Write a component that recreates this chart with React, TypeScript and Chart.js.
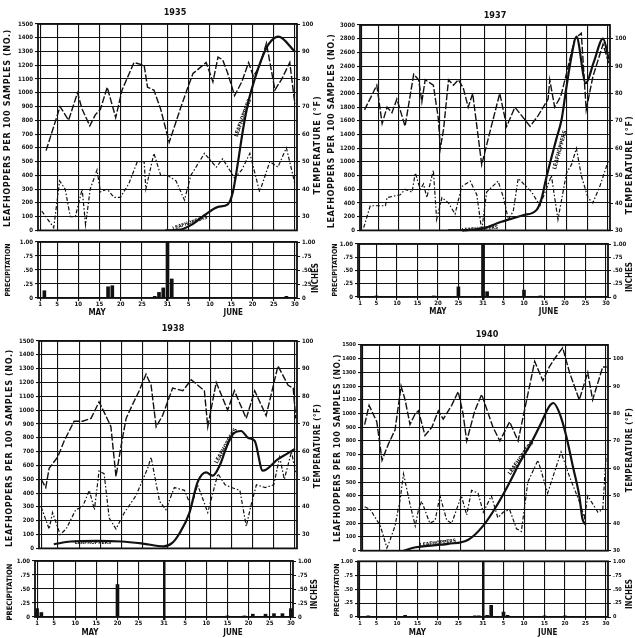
import React, { useEffect, useRef } from "react";
import { Chart, registerables } from "chart.js";

Chart.register(...registerables);

// ---------- shared axis labels ----------
const dayTicks = [1, 5, 10, 15, 20, 25, 31, 36, 41, 46, 51, 56, 61];
const dayTickLabels = ["1", "5", "10", "15", "20", "25", "31", "5", "10", "15", "20", "25", "30"];
const monthLabels = ["MAY", "JUNE"];
const precipTicks = [0, 0.25, 0.5, 0.75, 1];
const precipTickLabels = ["0", ".25", ".50", ".75", "1.00"];
const tempTicks = [30, 40, 50, 60, 70, 80, 90, 100];

// ---------- 1935 ----------
const max1935Days = [2.4, 5.7, 7.7, 9.8, 10.9, 12.7, 14, 15.2, 16.8, 18.8, 20.3, 23.1, 25.5, 26.3, 27.8, 29.4, 31.4, 34.2, 35.8, 37, 40.1, 41.7, 42.9, 44, 45.2, 46.8, 48.5, 50.1, 51.2, 52.5, 54.3, 56.3, 57.9, 59.8, 61];
const max1935 = [54, 70, 65, 75, 69, 63, 67, 69, 77, 66, 76, 86, 85, 77, 76, 69, 57, 70, 77, 82, 86, 79, 88, 87, 82, 74, 79, 86, 81, 84, 93, 76, 80, 86, 71];
const min1935Days = [1.4, 4.2, 5.6, 6.9, 8.1, 9.3, 10.9, 11.7, 12.8, 14.4, 15.2, 16.8, 18.4, 19.9, 21.9, 23.9, 25.5, 25.9, 27.8, 29.4, 31, 33, 35, 36.5, 39.7, 42.5, 44, 46.8, 48.5, 50.4, 52.7, 55.1, 57, 59, 61];
const min1935 = [32, 26, 43, 40, 30, 30, 40, 27, 40, 47, 39, 40, 37, 37, 42, 50, 50, 40, 53, 45, 45, 43, 36, 45, 53, 48, 51, 44, 47, 53, 39, 50, 48, 55, 42];
const hop1935Days = [30.5, 34, 36.5, 39.7, 42.9, 45.2, 46.4, 47.6, 48.8, 50, 51.5, 53.1, 54.7, 57.1, 61];
const hop1935 = [0, 5, 38, 110, 171, 190, 279, 495, 735, 928, 1096, 1240, 1348, 1408, 1300];
const rain1935Days = [2, 17, 18, 28, 29, 30, 31, 32, 59];
const rain1935 = [0.13, 0.2, 0.22, 0.03, 0.1, 0.18, 1.0, 0.34, 0.03];
const month1935 = [14.4, 46.5];

// ---------- 1937 ----------
const max1937Days = [1.6, 4.6, 5.9, 7.1, 8.3, 9.5, 10.7, 11.5, 13.6, 14.8, 15.6, 16.4, 18.4, 19.6, 20.1, 20.9, 22.1, 23.3, 24.5, 25.7, 26.9, 28, 30.2, 32.2, 34.6, 36.3, 38.3, 42, 44, 46.4, 46.8, 48, 49.5, 51, 52.9, 54.5, 55.7, 57.3, 59.8, 61.2];
const max1937 = [74, 83, 69, 75, 73, 78, 72, 68, 87, 85, 77, 85, 83, 71, 60, 67, 85, 83, 85, 82, 75, 80, 54, 66, 80, 68, 75, 68, 72, 78, 85, 75, 79, 88, 100, 102, 74, 86, 98, 91];
const min1937Days = [1.4, 3, 6.7, 7.1, 10.3, 11.5, 13.2, 14, 15.2, 16, 16.8, 18.4, 19.2, 20.5, 22.1, 23.7, 25.3, 27.4, 29, 30.2, 31.4, 34.2, 35.5, 36.7, 37.9, 39.1, 42.4, 44.4, 47.2, 48.8, 50.9, 52.1, 53.3, 54.5, 56.1, 57.3, 59, 61];
const min1937 = [31, 39, 39, 42, 43, 45, 44, 51, 45, 47, 42, 52, 34, 42, 40, 36, 46, 48, 43, 30, 44, 48, 42, 34, 37, 49, 44, 39, 50, 34, 51, 54, 60, 50, 42, 40, 46, 55];
const hop1937Days = [22, 26, 30.6, 35, 36.3, 40.3, 43.6, 44.8, 45.9, 48.4, 49.7, 50.9, 52.1, 53.3, 55.6, 57.5, 59.8, 61.2];
const hop1937 = [0, 5, 30, 126, 150, 222, 300, 464, 753, 1333, 1623, 2105, 2540, 2830, 2150, 2450, 2800, 2500];
const rain1937Days = [5, 19, 25, 31, 32, 41, 45];
const rain1937 = [0.02, 0.02, 0.19, 1.0, 0.1, 0.13, 0.02];
const month1937 = [20, 47];

// ---------- 1938 ----------
const max1938Days = [1, 2.1, 2.9, 4.9, 6.5, 8.8, 10.8, 12.8, 14.7, 16.3, 17.5, 18.7, 19.9, 21.1, 22.6, 24.2, 25.8, 27, 28.2, 29.7, 32.1, 34.5, 36.5, 39.6, 40.4, 42.4, 45.1, 46.7, 49.5, 51.5, 54.2, 57, 59.4, 60.6, 61.2];
const max1938 = [50, 47, 54, 58, 64, 71, 71, 72, 78, 73, 69, 51, 62, 72, 77, 82, 88, 84, 69, 73, 83, 82, 86, 82, 69, 85, 75, 82, 72, 82, 73, 91, 84, 83, 72];
const min1938Days = [1, 2.9, 3.7, 5.5, 6.9, 9.2, 10.8, 12.4, 13.6, 14.7, 15.9, 17.1, 18.7, 20.7, 23.4, 26.2, 27, 29, 30.5, 32.5, 34.9, 36.5, 38, 40.4, 42.8, 44.5, 46, 48, 49.5, 50.7, 51.9, 54, 56, 57.4, 58.5, 60.2, 61.2];
const min1938 = [40, 32, 38, 30, 32, 39, 40, 46, 39, 53, 52, 36, 32, 38, 44, 54, 58, 42, 39, 47, 46, 40, 48, 38, 52, 48, 47, 46, 33, 41, 48, 47, 48, 58, 50, 60, 52];
const hop1938Days = [4, 8, 14, 20, 25, 30, 32, 33.7, 36, 38, 40, 41.6, 43.2, 44.8, 46.3, 48.3, 49.9, 51.5, 53.4, 57, 59, 61];
const hop1938 = [30, 50, 55, 50, 35, 15, 40, 108, 251, 479, 550, 526, 598, 730, 825, 849, 801, 777, 562, 646, 682, 720];
const rain1938Days = [1, 2, 7, 20, 46, 50, 52, 55, 57, 59, 61];
const rain1938 = [0.15, 0.08, 0.01, 0.58, 0.02, 0.02, 0.05, 0.05, 0.06, 0.06, 0.15];
const month1938 = [13.5, 47.3];

// ---------- 1940 ----------
const max1940Days = [1.4, 2.5, 4.4, 5.7, 7.3, 8.9, 10.4, 11.4, 12.6, 13.9, 14.7, 16.3, 18, 19.6, 20.8, 22.9, 24.5, 25.7, 26.6, 28.6, 30.3, 33.1, 34.8, 37.2, 39.3, 41.7, 43.4, 45.4, 47, 48.3, 50.3, 52, 54.4, 56.5, 57.7, 60.2, 61.2];
const max1940 = [76, 83, 77, 63, 69, 74, 90, 85, 76, 80, 81, 72, 75, 81, 78, 83, 88, 80, 70, 81, 87, 75, 70, 77, 70, 87, 99, 92, 97, 100, 104, 95, 85, 95, 85, 97, 97];
const min1940Days = [1.4, 2.8, 5.3, 6.9, 7.7, 8.9, 10.2, 11, 12.6, 13.9, 14.7, 15.5, 17.5, 18.8, 20, 21.7, 22.9, 25.3, 26.6, 27.8, 29.4, 30.7, 32.7, 34.3, 35.6, 37.2, 38.9, 40.1, 41.7, 44.2, 46.6, 49.9, 52, 54.4, 55.7, 56.5, 59, 60.2, 61];
const min1940 = [46, 45, 39, 31, 34, 39, 49, 58, 47, 39, 45, 48, 40, 41, 50, 41, 40, 50, 43, 52, 51, 44, 50, 42, 44, 45, 38, 37, 55, 63, 51, 66, 57, 48, 42, 50, 44, 45, 64];
const hop1940Days = [11, 14, 22, 27, 30.7, 34, 37.2, 39.7, 42.1, 45, 47, 48, 49.5, 51.2, 52.8, 54.4, 55.2, 56];
const hop1940 = [0, 25, 50, 80, 183, 328, 498, 643, 763, 932, 1053, 1077, 1005, 835, 618, 401, 232, 190];
const rain1940Days = [3, 12, 29, 30, 32, 33, 36, 37, 46, 51];
const rain1940 = [0.02, 0.03, 0.02, 0.02, 0.03, 0.21, 0.09, 0.03, 0.02, 0.02];
const month1940 = [15, 46.8];

// ---------- styling / layout ----------
const INK = "#111";
const FONT = "'DejaVu Sans Condensed', 'DejaVu Sans', sans-serif";
const X_MIN = 0.5;
const X_MAX = 61.5;

type Rect = { x: number; y: number; w: number; h: number };
type Area = { l: number; t: number; r: number; b: number };
type TextItem = { text: string; x: number; y: number; size: number; rot?: number; ls?: number };

interface Panel {
  year: string;
  hopMax: number;
  hopStep: number;
  tMin: number;
  tMax: number;
  tickSize: number;
  lineCanvas: Rect;
  linePlot: Area;
  rainCanvas: Rect;
  rainPlot: Area;
  rainXH: number;
  hopDays: number[];
  hop: number[];
  maxDays: number[];
  maxT: number[];
  minDays: number[];
  minT: number[];
  rainDays: number[];
  rain: number[];
  monthDays: number[];
  lineTexts: TextItem[];
  rainTexts: TextItem[];
}

const UP = -Math.PI / 2;
const LEFT_TITLE = "LEAFHOPPERS PER 100 SAMPLES (NO.)";
const TEMP_TITLE = "TEMPERATURE (°F)";

const panels: Panel[] = [
  {
    year: "1935", hopMax: 1500, hopStep: 100, tMin: 25, tMax: 100, tickSize: 6,
    lineCanvas: { x: 0, y: 0, w: 325, h: 236 }, linePlot: { l: 38, t: 24, r: 297, b: 232 },
    rainCanvas: { x: 0, y: 236, w: 325, h: 82 }, rainPlot: { l: 38, t: 242, r: 297, b: 298 }, rainXH: 9,
    hopDays: hop1935Days, hop: hop1935, maxDays: max1935Days, maxT: max1935, minDays: min1935Days, minT: min1935,
    rainDays: rain1935Days, rain: rain1935, monthDays: month1935,
    lineTexts: [
      { text: "1935", x: 175, y: 13, size: 9 },
      { text: LEFT_TITLE, x: 8, y: 128, size: 9, rot: UP, ls: 0.6 },
      { text: TEMP_TITLE, x: 318, y: 145, size: 9, rot: UP, ls: 0.8 },
      { text: "LEAFHOPPERS", x: 243, y: 118, size: 5.5, rot: -1.22 },
      { text: "LEAFHOPPERS", x: 190, y: 223, size: 5, rot: -0.32 },
    ],
    rainTexts: [
      { text: "PRECIPITATION", x: 8, y: 270, size: 7, rot: UP },
      { text: "INCHES", x: 316, y: 278, size: 8, rot: UP },
    ],
  },
  {
    year: "1937", hopMax: 3000, hopStep: 200, tMin: 30, tMax: 105, tickSize: 6,
    lineCanvas: { x: 325, y: 0, w: 310, h: 236 }, linePlot: { l: 360, t: 25, r: 610, b: 232 },
    rainCanvas: { x: 325, y: 236, w: 310, h: 82 }, rainPlot: { l: 358, t: 244, r: 608, b: 297 }, rainXH: 9,
    hopDays: hop1937Days, hop: hop1937, maxDays: max1937Days, maxT: max1937, minDays: min1937Days, minT: min1937,
    rainDays: rain1937Days, rain: rain1937, monthDays: month1937,
    lineTexts: [
      { text: "1937", x: 495, y: 16, size: 9 },
      { text: LEFT_TITLE, x: 332, y: 131, size: 9, rot: UP, ls: 0.5 },
      { text: TEMP_TITLE, x: 630, y: 165, size: 9, rot: UP, ls: 0.8 },
      { text: "LEAFHOPPERS", x: 560, y: 150, size: 5.5, rot: -1.3 },
      { text: "LEAFHOPPERS", x: 480, y: 229, size: 5, rot: -0.08 },
    ],
    rainTexts: [
      { text: "PRECIPITATION", x: 335, y: 270, size: 7, rot: UP },
      { text: "INCHES", x: 630, y: 277, size: 8, rot: UP },
    ],
  },
  {
    year: "1938", hopMax: 1500, hopStep: 100, tMin: 25, tMax: 100, tickSize: 6,
    lineCanvas: { x: 0, y: 318, w: 325, h: 236 }, linePlot: { l: 39, t: 341, r: 297, b: 550 },
    rainCanvas: { x: 0, y: 554, w: 325, h: 84 }, rainPlot: { l: 35, t: 561, r: 293, b: 617 }, rainXH: 10,
    hopDays: hop1938Days, hop: hop1938, maxDays: max1938Days, maxT: max1938, minDays: min1938Days, minT: min1938,
    rainDays: rain1938Days, rain: rain1938, monthDays: month1938,
    lineTexts: [
      { text: "1938", x: 173, y: 329, size: 9 },
      { text: LEFT_TITLE, x: 10, y: 448, size: 9, rot: UP, ls: 0.6 },
      { text: TEMP_TITLE, x: 318, y: 446, size: 8, rot: UP, ls: 0.5 },
      { text: "LEAFHOPPERS", x: 226, y: 446, size: 5.5, rot: -1.05 },
      { text: "LEAFHOPPERS", x: 93, y: 543, size: 5, rot: 0 },
    ],
    rainTexts: [
      { text: "PRECIPITATION", x: 10, y: 592, size: 7.5, rot: UP },
      { text: "INCHES", x: 315, y: 594, size: 8, rot: UP },
    ],
  },
  {
    year: "1940", hopMax: 1500, hopStep: 100, tMin: 30, tMax: 105, tickSize: 5.5,
    lineCanvas: { x: 325, y: 318, w: 310, h: 238 }, linePlot: { l: 361, t: 345, r: 608, b: 552 },
    rainCanvas: { x: 325, y: 556, w: 310, h: 82 }, rainPlot: { l: 358, t: 561, r: 608, b: 617 }, rainXH: 10,
    hopDays: hop1940Days, hop: hop1940, maxDays: max1940Days, maxT: max1940, minDays: min1940Days, minT: min1940,
    rainDays: rain1940Days, rain: rain1940, monthDays: month1940,
    lineTexts: [
      { text: "1940", x: 487, y: 335, size: 9 },
      { text: LEFT_TITLE, x: 338, y: 448, size: 8.5, rot: UP, ls: 0.6 },
      { text: TEMP_TITLE, x: 630, y: 450, size: 8, rot: UP, ls: 0.5 },
      { text: "LEAFHOPPERS", x: 521, y: 458, size: 5.5, rot: -0.95 },
      { text: "LEAFHOPPERS", x: 438, y: 543, size: 5, rot: -0.12 },
    ],
    rainTexts: [
      { text: "PRECIPITATION", x: 337, y: 590, size: 7, rot: UP },
      { text: "INCHES", x: 630, y: 594, size: 8, rot: UP },
    ],
  },
];

// ---------- helpers ----------
function pts(xs: number[], ys: number[]) {
  return xs.map((x, i) => ({ x, y: ys[i] }));
}

function fixSize(size: number) {
  return (scale: any) => {
    if (scale.isHorizontal()) scale.height = size;
    else scale.width = size;
  };
}

function setTicks(values: number[]) {
  return (scale: any) => {
    scale.ticks = values.map((v) => ({ value: v }));
  };
}

const framePlugin = {
  id: "frame",
  afterDatasetsDraw(chart: any) {
    const { ctx, chartArea: a } = chart;
    ctx.save();
    ctx.strokeStyle = INK;
    ctx.lineWidth = 1.8;
    ctx.strokeRect(a.left, a.top, a.right - a.left, a.bottom - a.top);
    ctx.restore();
  },
};

function textPlugin(items: TextItem[], ox: number, oy: number) {
  return {
    id: "panelTexts",
    afterDraw(chart: any) {
      const ctx = chart.ctx;
      for (const it of items) {
        ctx.save();
        ctx.translate(it.x - ox, it.y - oy);
        if (it.rot) ctx.rotate(it.rot);
        ctx.font = `bold ${it.size}px ${FONT}`;
        ctx.fillStyle = INK;
        ctx.textAlign = "center";
        ctx.textBaseline = "middle";
        if ("letterSpacing" in ctx) (ctx as any).letterSpacing = `${it.ls ?? 0}px`;
        ctx.fillText(it.text, 0, 0);
        ctx.restore();
      }
    },
  };
}

function lineConfig(p: Panel): any {
  const c = p.lineCanvas;
  const a = p.linePlot;
  const tickFont = { family: FONT, size: p.tickSize, weight: "bold" };
  return {
    type: "line",
    data: {
      datasets: [
        {
          label: "LEAFHOPPERS",
          data: pts(p.hopDays, p.hop),
          yAxisID: "y",
          borderColor: INK,
          borderWidth: 2.2,
          pointRadius: 0,
          cubicInterpolationMode: "monotone",
          fill: false,
        },
        {
          label: "MAX.",
          data: pts(p.maxDays, p.maxT),
          yAxisID: "yt",
          borderColor: INK,
          borderWidth: 1.4,
          borderDash: [7, 2],
          pointRadius: 0,
          tension: 0,
          fill: false,
        },
        {
          label: "MIN.",
          data: pts(p.minDays, p.minT),
          yAxisID: "yt",
          borderColor: INK,
          borderWidth: 1.2,
          borderDash: [4, 2, 1.5, 2],
          pointRadius: 0,
          tension: 0,
          fill: false,
        },
      ],
    },
    options: {
      responsive: false,
      animation: false,
      events: [],
      layout: { padding: { top: a.t - c.y, left: 0, right: 0, bottom: 0 } },
      plugins: { legend: { display: false }, tooltip: { enabled: false }, title: { display: false } },
      scales: {
        x: {
          type: "linear",
          axis: "x",
          position: "bottom",
          min: X_MIN,
          max: X_MAX,
          offset: false,
          afterBuildTicks: setTicks(dayTicks),
          ticks: { display: false },
          grid: { color: INK, lineWidth: 1.1, drawTicks: false, offset: false },
          border: { display: false },
          afterFit: fixSize(c.y + c.h - a.b),
        },
        y: {
          type: "linear",
          axis: "y",
          position: "left",
          min: 0,
          max: p.hopMax,
          ticks: {
            stepSize: p.hopStep,
            autoSkip: false,
            callback: (v: number) => String(v),
            font: tickFont,
            color: INK,
            padding: 2,
          },
          grid: { color: INK, lineWidth: 1.1, tickLength: 3 },
          border: { display: false },
          afterFit: fixSize(a.l - c.x),
        },
        yt: {
          type: "linear",
          axis: "y",
          position: "right",
          min: p.tMin,
          max: p.tMax,
          afterBuildTicks: setTicks(tempTicks),
          ticks: { autoSkip: false, callback: (v: number) => String(v), font: tickFont, color: INK, padding: 2 },
          grid: { drawOnChartArea: false, color: INK, tickLength: 3 },
          border: { display: false },
          afterFit: fixSize(c.x + c.w - a.r),
        },
      },
    },
    plugins: [framePlugin, textPlugin(p.lineTexts, c.x, c.y)],
  };
}

function rainConfig(p: Panel): any {
  const c = p.rainCanvas;
  const a = p.rainPlot;
  const tickFont = { family: FONT, size: p.tickSize, weight: "bold" };
  return {
    type: "bar",
    data: {
      datasets: [
        {
          label: "PRECIPITATION",
          data: pts(p.rainDays, p.rain),
          backgroundColor: INK,
          borderWidth: 0,
          barThickness: 3,
        },
      ],
    },
    options: {
      responsive: false,
      animation: false,
      events: [],
      layout: { padding: { top: a.t - c.y, left: 0, right: 0, bottom: 0 } },
      plugins: { legend: { display: false }, tooltip: { enabled: false }, title: { display: false } },
      scales: {
        x: {
          type: "linear",
          axis: "x",
          position: "bottom",
          min: X_MIN,
          max: X_MAX,
          offset: false,
          afterBuildTicks: setTicks(dayTicks),
          ticks: {
            autoSkip: false,
            maxRotation: 0,
            callback: (_v: number, i: number) => dayTickLabels[i],
            font: tickFont,
            color: INK,
            padding: 0,
          },
          grid: {
            offset: false,
            color: INK,
            lineWidth: (ctx: any) => (ctx.tick && ctx.tick.value === 31 ? 2.5 : 1.1),
            tickLength: 3,
          },
          border: { display: false },
          afterFit: fixSize(p.rainXH),
        },
        xm: {
          type: "linear",
          axis: "x",
          position: "bottom",
          min: X_MIN,
          max: X_MAX,
          offset: false,
          afterBuildTicks: setTicks(p.monthDays),
          ticks: {
            autoSkip: false,
            maxRotation: 0,
            callback: (_v: number, i: number) => monthLabels[i],
            font: { family: FONT, size: 8, weight: "bold" },
            color: INK,
            padding: 1,
          },
          grid: { display: false, offset: false, drawTicks: false },
          border: { display: false },
          afterFit: fixSize(c.y + c.h - a.b - p.rainXH),
        },
        y: {
          type: "linear",
          axis: "y",
          position: "left",
          min: 0,
          max: 1,
          afterBuildTicks: setTicks(precipTicks),
          ticks: {
            autoSkip: false,
            callback: (_v: number, i: number) => precipTickLabels[i],
            font: tickFont,
            color: INK,
            padding: 2,
          },
          grid: { color: INK, lineWidth: 1.1, tickLength: 3 },
          border: { display: false },
          afterFit: fixSize(a.l - c.x),
        },
        yr: {
          type: "linear",
          axis: "y",
          position: "right",
          min: 0,
          max: 1,
          afterBuildTicks: setTicks(precipTicks),
          ticks: {
            autoSkip: false,
            callback: (_v: number, i: number) => precipTickLabels[i],
            font: tickFont,
            color: INK,
            padding: 2,
          },
          grid: { drawOnChartArea: false, color: INK, tickLength: 3 },
          border: { display: false },
          afterFit: fixSize(c.x + c.w - a.r),
        },
      },
    },
    plugins: [framePlugin, textPlugin(p.rainTexts, c.x, c.y)],
  };
}

function ChartCanvas({ rect, make }: { rect: Rect; make: () => any }) {
  const ref = useRef<HTMLCanvasElement | null>(null);
  useEffect(() => {
    const chart = new Chart(ref.current as HTMLCanvasElement, make());
    return () => chart.destroy();
  }, []);
  return (
    <canvas
      ref={ref}
      width={rect.w}
      height={rect.h}
      style={{ position: "absolute", left: rect.x, top: rect.y, width: rect.w, height: rect.h }}
    />
  );
}

export default function App() {
  return (
    <div
      style={{
        position: "absolute",
        left: 0,
        top: 0,
        width: 635,
        height: 638,
        background: "#fff",
        overflow: "hidden",
      }}
    >
      {panels.map((p) => (
        <React.Fragment key={p.year}>
          <ChartCanvas rect={p.lineCanvas} make={() => lineConfig(p)} />
          <ChartCanvas rect={p.rainCanvas} make={() => rainConfig(p)} />
        </React.Fragment>
      ))}
    </div>
  );
}
